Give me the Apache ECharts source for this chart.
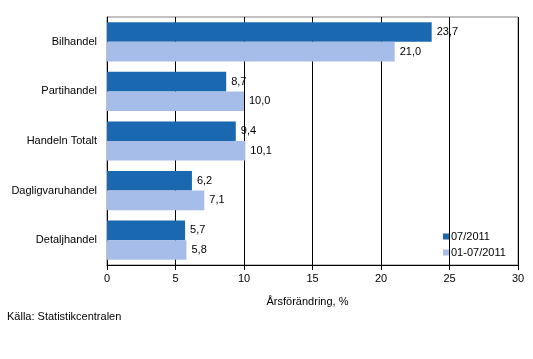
<!DOCTYPE html>
<html><head><meta charset="utf-8">
<script src="https://cdn.jsdelivr.net/npm/echarts@6/dist/echarts.min.js"></script>
<style>html,body{margin:0;padding:0;background:#fff}#c{width:533px;height:359px}</style>
</head><body><div id="c"></div>
<script>
const categories = ['Bilhandel','Partihandel','Handeln Totalt','Dagligvaruhandel','Detaljhandel'];
const seriesNames = ['07/2011','01-07/2011'];
const month = [23.7, 8.7, 9.4, 6.2, 5.7];
const ytd = [21.0, 10.0, 10.1, 7.1, 5.8];
const xTicks = [0,5,10,15,20,25,30];

const font = 'Liberation Sans, Arial, sans-serif';
const chart = echarts.init(document.getElementById('c'), null, {renderer:'canvas'});
const lbl = {show:true, position:'right', distance:5, color:'#000', fontFamily:font, fontSize:11,
  formatter: p => p.value.toFixed(1).replace('.', ',')};
chart.setOption({
  animation:false,
  textStyle:{fontFamily:font},
  grid:{left:107, right:15, top:17, bottom:94, show:true, borderColor:'#808080', borderWidth:1},
  legend:{orient:'vertical', left:438, top:226, itemWidth:6, itemHeight:6, itemGap:5,
    icon:'rect', textStyle:{fontSize:11, color:'#000', fontFamily:font, padding:[0,0,0,-3]},
    data:seriesNames},
  xAxis:{type:'value', min:xTicks[0], max:xTicks[xTicks.length-1], interval:5,
    axisLine:{show:true, lineStyle:{color:'#000'}}, axisTick:{show:true, length:5, lineStyle:{color:'#000'}},
    axisLabel:{color:'#000', fontSize:11, margin:8, fontFamily:font},
    splitLine:{show:true, lineStyle:{color:'#000', width:1}},
    name:'Årsförändring, %', nameLocation:'middle', nameGap:31,
    nameTextStyle:{color:'#000', fontSize:11, fontFamily:font, padding:[0,0,0,-10]}},
  yAxis:{type:'category', data:categories, inverse:true,
    axisLine:{show:true, lineStyle:{color:'#000'}}, axisTick:{show:false},
    axisLabel:{color:'#000', fontSize:11, margin:10, fontFamily:font}},
  graphic:[{type:'text', left:7, top:311, style:{text:'Källa: Statistikcentralen', fontSize:11, fill:'#000', font:'11px '+font}}],
  series:[
    {name:seriesNames[0], type:'bar', data:month, itemStyle:{color:'#1a68b0'}, barGap:'0%', barCategoryGap:'21%', label:lbl},
    {name:seriesNames[1], type:'bar', data:ytd, itemStyle:{color:'#a6bde9'}, barGap:'0%', barCategoryGap:'21%', label:lbl}
  ]
});
</script></body></html>
